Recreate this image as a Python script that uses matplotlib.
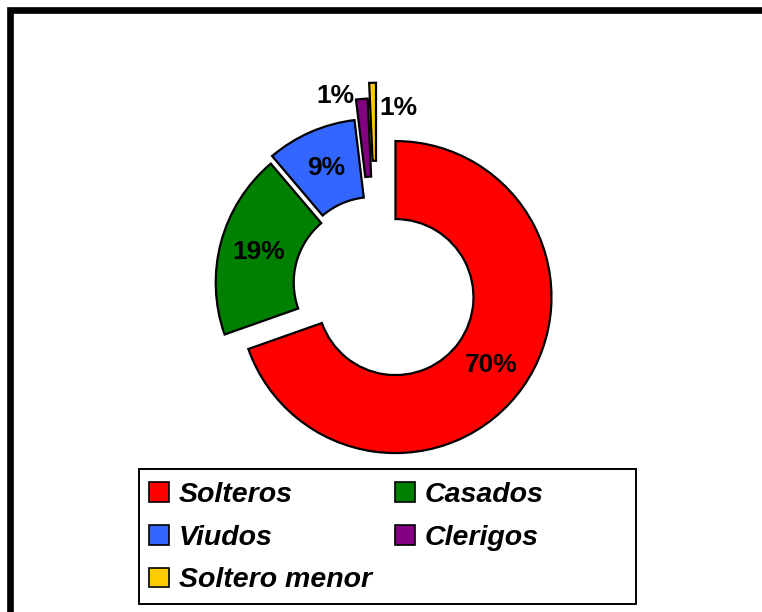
"""
Dona de estado civil: porcentaje por categoria.
"""
import numpy as np
import matplotlib.pyplot as plt
from matplotlib.patches import Rectangle, Patch
from matplotlib.font_manager import FontProperties

categorias = ["Solteros", "Casados", "Viudos", "Clerigos", "Soltero menor"]
porcentajes = [69.6, 19.2, 9.3, 1.2, 0.7]
colores = ["#FF0000", "#008000", "#3366FF", "#800080", "#FFCC00"]
separacion = [0.145, 0.035, 0.063, 0.19, 0.29]

W, H = 762, 612
R_PX = 156.0
CX, CY = 377.0, 284.0


def px(x, y):
    # pixeles de la imagen -> coordenadas del grafico (radio = 1)
    return (x - CX) / R_PX, (CY - y) / R_PX


fig = plt.figure(figsize=(W / 100, H / 100), dpi=100)
ax = fig.add_axes([0, 0, 1, 1])

wedges, textos, pcts = ax.pie(
    porcentajes, colors=colores, explode=separacion, radius=1.0,
    startangle=90, counterclock=False, autopct="%1.0f%%", pctdistance=0.75,
    wedgeprops=dict(width=0.5, edgecolor="black", linewidth=1.6),
    textprops=dict(fontsize=19, fontweight="bold", family="Liberation Sans"),
)

# etiquetas de los sectores pequenos, fuera de la dona
w = wedges[3]
x0, y0 = w.center
a = np.deg2rad(w.theta2)
pcts[3].set_position((x0 + w.r * np.cos(a) - 2 / R_PX, y0 + w.r * np.sin(a) + 4 / R_PX))
pcts[3].set_ha("right")
w = wedges[4]
x0, y0 = w.center
a = np.deg2rad(w.theta1)
pcts[4].set_position((x0 + w.r * np.cos(a) + 3 / R_PX, y0 + w.r * np.sin(a) - 25 / R_PX))
pcts[4].set_ha("left")

x_lo, y_hi = px(0, 0)
x_hi, y_lo = px(W, H)
ax.set_xlim(x_lo, x_hi)
ax.set_ylim(y_lo, y_hi)
ax.set_aspect("equal")
ax.axis("off")

# marco grueso de la figura (cortado a la derecha y abajo)
fx, fy = px(10, 10)
ax.add_patch(Rectangle((fx, y_lo - 1), x_hi + 1 - fx, fy - y_lo + 1, fill=False,
                       edgecolor="black", linewidth=4.8))

# caja de la leyenda
lx, ly = px(139, 604)
ax.add_patch(Rectangle((lx, ly), 497 / R_PX, 135 / R_PX, facecolor="white",
                       edgecolor="black", linewidth=1.4))

orden = [0, 2, 4, 1, 3]
handles = [Patch(facecolor=colores[i], edgecolor="black", linewidth=1.2, label=categorias[i])
           for i in orden]
fp = FontProperties(family="Liberation Sans", weight="bold", style="italic", size=20.5)
ax.legend(handles=handles, ncol=2, loc="upper left", bbox_to_anchor=px(139, 472),
          bbox_transform=ax.transData, frameon=False, prop=fp, borderaxespad=0,
          handlelength=0.68, handleheight=0.68, handletextpad=0.36,
          columnspacing=0.82, labelspacing=0.58, borderpad=0.36)

plt.savefig("out.png", dpi=100)
print("Saved -> out.png")
